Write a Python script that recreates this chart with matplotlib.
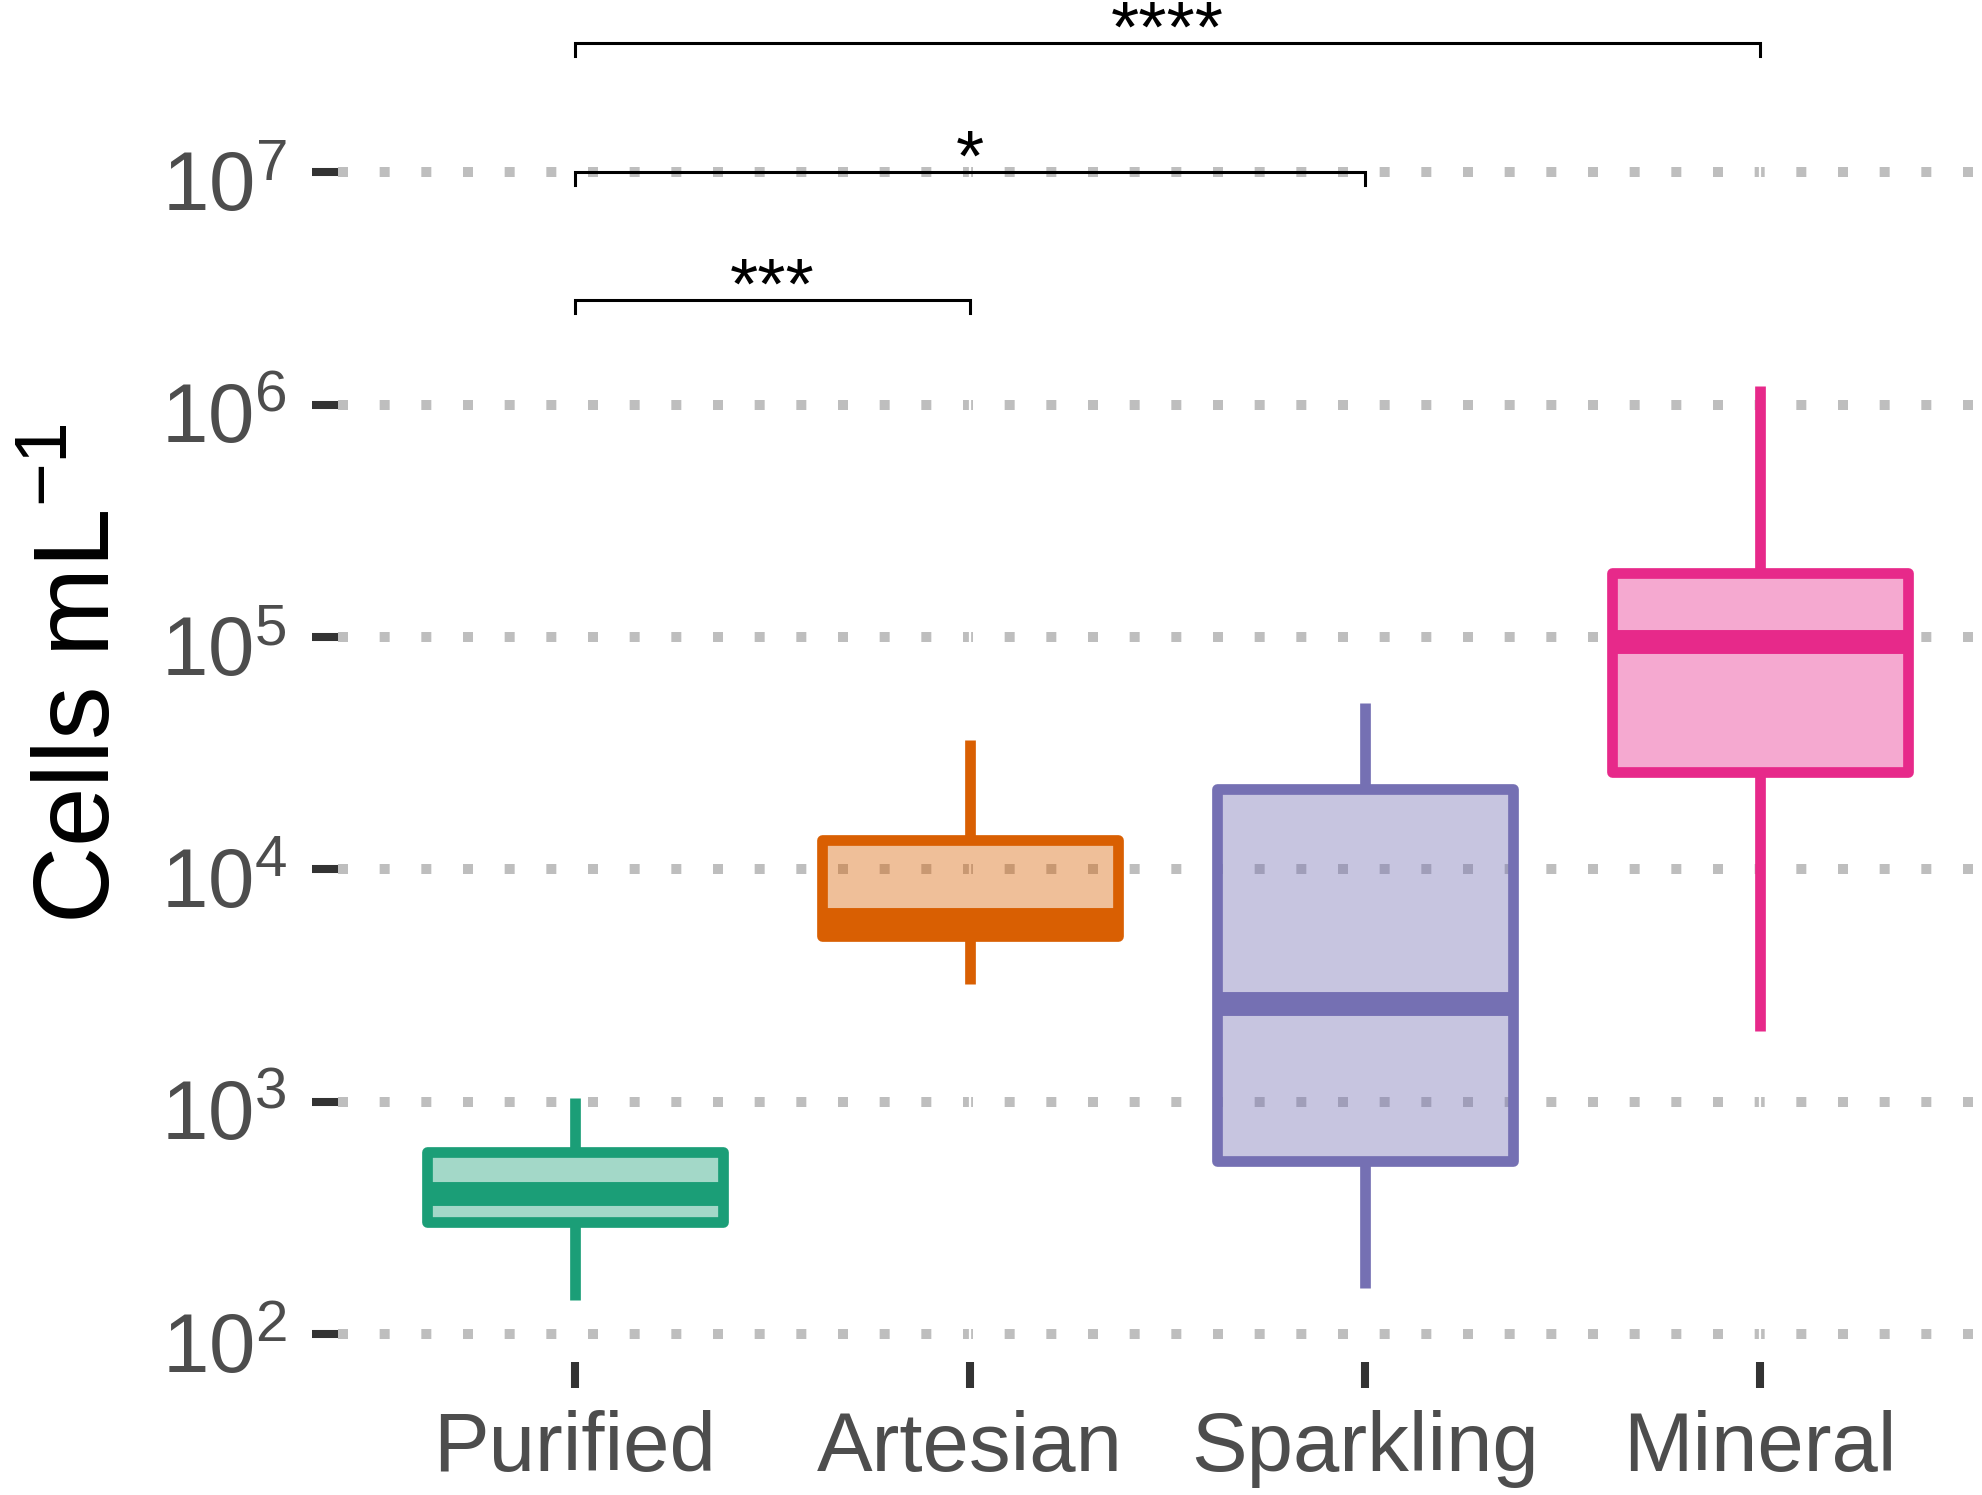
import matplotlib
matplotlib.use("Agg")
import matplotlib.pyplot as plt
import matplotlib.transforms as mtransforms
import numpy as np

plt.rcParams['font.family'] = ['Liberation Sans', 'DejaVu Sans']
plt.rcParams['mathtext.fontset'] = 'custom'
plt.rcParams['mathtext.rm'] = 'Liberation Sans'
plt.rcParams['lines.scale_dashes'] = False

# ---- data ----
categories = ['Purified', 'Artesian', 'Sparkling', 'Mineral']
whisker_low = [141, 3220, 158, 2020]
q1 = [305, 5190, 557, 26200]
median = [402, 6070, 2640, 95200]
q3 = [609, 13360, 22170, 188000]
whisker_high = [1040, 36060, 52000, 1.2e6]
colors = ['#1B9E77', '#D95F02', '#7570B3', '#E7298A']

comparisons = [(0, 1), (0, 2), (0, 3)]
comp_labels = ['***', '*', '****']
comp_y = [2.81e6, 1.0e7, 3.59e7]

ytick_vals = [1e2, 1e3, 1e4, 1e5, 1e6, 1e7]
ytick_labels = [r'$\mathregular{10^{2}}$', r'$\mathregular{10^{3}}$', r'$\mathregular{10^{4}}$',
                r'$\mathregular{10^{5}}$', r'$\mathregular{10^{6}}$', r'$\mathregular{10^{7}}$']

# ---- figure ----
W, H, DPI = 1983, 1495, 200
fig = plt.figure(figsize=(W / DPI, H / DPI), dpi=DPI)
ax = fig.add_axes([338 / W, 1 - 1362 / H, (1997 - 338) / W, 1362 / H])

ax.set_yscale('log')
ax.set_xlim(0.4, 4.6)
ax.set_ylim(10 ** 1.8817, 10 ** 7.7398)

for s in ax.spines.values():
    s.set_visible(False)

ax.set_axisbelow(True)
ax.yaxis.grid(True, color='#BEBEBE', linewidth=3.6, linestyle=(0, (3.6, 11.4)))
ax.xaxis.grid(False)
positions = np.arange(1, len(categories) + 1)
for p in positions:
    ax.axvline(p, color='white', lw=0.8, zorder=0.9)

stats = []
for i in range(len(categories)):
    stats.append(dict(med=median[i], q1=q1[i], q3=q3[i],
                      whislo=whisker_low[i], whishi=whisker_high[i], fliers=[]))

lw = 3.85
for i, st in enumerate(stats):
    c = colors[i]
    ax.bxp([st], positions=[positions[i]], widths=0.75, patch_artist=True,
           showcaps=False, showfliers=False,
           boxprops=dict(facecolor=matplotlib.colors.to_rgba(c, 0.4), edgecolor=c,
                         linewidth=lw, joinstyle='round'),
           whiskerprops=dict(color=c, linewidth=lw, solid_capstyle='butt'),
           medianprops=dict(color=c, linewidth=8.6, solid_capstyle='butt'),
           manage_ticks=False, zorder=2)

ax.set_xticks(positions)
ax.set_xticklabels(categories)
ax.set_yticks(ytick_vals)
ax.set_yticklabels(ytick_labels)
ax.yaxis.set_minor_locator(matplotlib.ticker.NullLocator())

ax.tick_params(axis='both', which='major', length=9.4, width=2.9, color='#333333',
               labelcolor='#4D4D4D', labelsize=30)
ax.tick_params(axis='y', pad=9)
ax.tick_params(axis='x', pad=8)

shift = mtransforms.ScaledTranslation(0, -8 / DPI, fig.dpi_scale_trans)
for lab in ax.get_yticklabels():
    lab.set_transform(lab.get_transform() + shift)

fig.text(82 / W, 1 - 674 / H, r'Cells mL$^{\mathregular{-1}}$', rotation=90,
         ha='center', va='center', fontsize=38.5, color='black')

# significance brackets
drop = 10 ** -0.056
for (a, b), lab, yv in zip(comparisons, comp_labels, comp_y):
    xa, xb = positions[a], positions[b]
    ax.plot([xa, xa, xb, xb], [yv * drop, yv, yv, yv * drop], color='black',
            lw=1.1, clip_on=False, zorder=3, solid_joinstyle='miter')
    ax.annotate(lab, xy=((xa + xb) / 2, yv), xytext=(0, -3.0), textcoords='offset points',
                ha='center', va='baseline', fontsize=26, color='black',
                annotation_clip=False, zorder=3)

fig.savefig('out.png', dpi=DPI)
